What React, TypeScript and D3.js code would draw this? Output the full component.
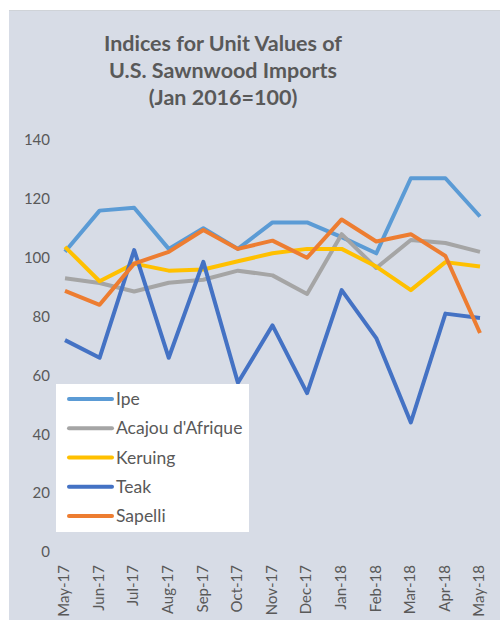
import React from "react";
import * as d3 from "d3";

const months = ["May-17","Jun-17","Jul-17","Aug-17","Sep-17","Oct-17","Nov-17","Dec-17","Jan-18","Feb-18","Mar-18","Apr-18","May-18"];
const ipe = [102,116,117,103,110,103,112,112,107,101.5,127,127,114];
const acajou = [93,91.4,88.5,91.5,92.5,95.6,94,87.7,108,96.5,106,105,102];
const keruing = [103.7,92,98,95.6,96,98.8,101.5,103,103,97,89,98.5,97];
const teak = [72,66,102.6,66,98.6,57.5,77,54,89,72.7,44,81,79.5];
const sapelli = [88.7,84,98,102,109.4,103,105.8,100,113,105.5,108,100.6,74.4];
const yTicks = [0,20,40,60,80,100,120,140];
const titleLines = ["Indices for Unit Values of","U.S. Sawnwood Imports","(Jan 2016=100)"];

const seriesNames = ["Ipe","Acajou d'Afrique","Keruing","Teak","Sapelli"];
const seriesValues = [ipe, acajou, keruing, teak, sapelli];
const seriesColors = ["#5B9BD5","#A5A5A5","#FFC000","#4472C4","#ED7D31"];

export default function App() {
  const W = 500, H = 620;
  const x = d3.scalePoint<string>().domain(months).range([65, 480]);
  const y = d3.scaleLinear().domain([0, 140]).range([552, 140]);
  const line = d3.line<number>().x((_, i) => x(months[i]) as number).y(d => y(d));
  const legendY = d3.scaleLinear().domain([0, 4]).range([399, 516]);
  const textColor = "#595959";
  const font = "Lato, 'Open Sans', sans-serif";

  return (
    <svg width={W} height={H} style={{ position: "absolute", left: 0, top: 0, background: "#fff" }}>
      <rect x={9} y={10} width={W - 9} height={H - 10} fill="#D7DCE6" />
      <line x1={9} x2={W} y1={10.5} y2={10.5} stroke="#CFD3D8" />
      {titleLines.map((t, i) => (
        <text key={t} x={223} y={51 + i * 27} textAnchor="middle" fontFamily={font} fontWeight={700}
          fontSize={21.5} fill={textColor}>{t}</text>
      ))}
      {yTicks.map(t => (
        <text key={t} x={50} y={y(t)} dy="0.35em" textAnchor="end" fontFamily={font} fontSize={15} fill={textColor}>{t}</text>
      ))}
      {months.map(m => (
        <text key={m} transform={`translate(${(x(m) as number) - 1},565) rotate(-90)`} dy="0.35em" textAnchor="end"
          fontFamily={font} fontSize={15} fill={textColor}>{m}</text>
      ))}
      {seriesValues.map((vals, i) => (
        <path key={seriesNames[i]} d={line(vals) || ""} fill="none" stroke={seriesColors[i]} strokeWidth={4}
          strokeLinejoin="round" />
      ))}
      <rect x={56} y={384} width={193} height={148} fill="#fff" />
      {seriesNames.map((n, i) => (
        <g key={n}>
          <line x1={69} x2={112} y1={legendY(i)} y2={legendY(i)} stroke={seriesColors[i]} strokeWidth={4} strokeLinecap="round" />
          <text x={116} y={legendY(i)} dy="0.35em" fontFamily={font} fontSize={17.5} fill={textColor}>{n}</text>
        </g>
      ))}
    </svg>
  );
}
